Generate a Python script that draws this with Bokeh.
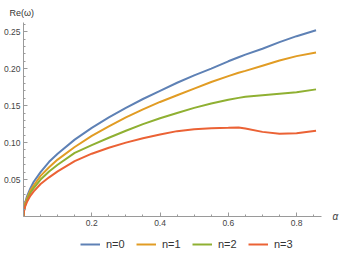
from bokeh.plotting import figure
from bokeh.layouts import column
from bokeh.models import (FixedTicker, Legend, LegendItem, Title, Range1d,
                          LinearAxis, PrintfTickFormatter)
from bokeh.embed import file_html
from bokeh.resources import INLINE

alpha = [0, 0.001, 0.005, 0.01, 0.02, 0.03, 0.05, 0.075, 0.1, 0.15, 0.2, 0.25, 0.3,
         0.35, 0.4, 0.45, 0.5, 0.55, 0.6, 0.63, 0.65, 0.7, 0.75, 0.8, 0.857]
n0 = [0, 0.0085, 0.019, 0.027, 0.038, 0.047, 0.060, 0.074, 0.085, 0.104, 0.120,
      0.134, 0.147, 0.159, 0.170, 0.181, 0.191, 0.200, 0.210, 0.2155, 0.219,
      0.227, 0.236, 0.244, 0.252]
n1 = [0, 0.0077, 0.018, 0.0243, 0.035, 0.042, 0.055, 0.0666, 0.077, 0.094, 0.109,
      0.122, 0.134, 0.145, 0.155, 0.164, 0.173, 0.182, 0.190, 0.1945, 0.197,
      0.204, 0.211, 0.217, 0.222]
n2 = [0, 0.007, 0.0155, 0.022, 0.032, 0.0385, 0.050, 0.0608, 0.070, 0.086, 0.0965,
      0.1065, 0.116, 0.125, 0.133, 0.140, 0.147, 0.153, 0.158, 0.1605, 0.162,
      0.164, 0.166, 0.168, 0.172]
n3 = [0, 0.0062, 0.0138, 0.0195, 0.028, 0.034, 0.044, 0.053, 0.061, 0.075, 0.085,
      0.093, 0.100, 0.106, 0.111, 0.1155, 0.118, 0.1195, 0.120, 0.1205, 0.119,
      0.1145, 0.112, 0.1125, 0.116]
series = [("n=0", n0, "#5E81B5"), ("n=1", n1, "#E19C24"),
          ("n=2", n2, "#8FB032"), ("n=3", n3, "#EB6235")]

x_major = [0.2, 0.4, 0.6, 0.8]
x_minor = [0.05, 0.1, 0.15, 0.25, 0.3, 0.35, 0.45, 0.5, 0.55, 0.65, 0.7, 0.75, 0.85]
y_major = [0.05, 0.10, 0.15, 0.20, 0.25]
y_minor = [0.01, 0.02, 0.03, 0.04, 0.06, 0.07, 0.08, 0.09, 0.11, 0.12, 0.13, 0.14,
           0.16, 0.17, 0.18, 0.19, 0.21, 0.22, 0.23, 0.24, 0.26]

FONT = "Liberation Sans"
AXC = "#9a9a9a"

p = figure(width=341, height=228, output_backend="svg", toolbar_location=None,
           x_range=Range1d(0, 0.873), y_range=Range1d(0, 0.2625),
           min_border_left=0, min_border_right=2, min_border_top=0, min_border_bottom=0)
p.outline_line_color = None
p.grid.grid_line_color = None
p.background_fill_color = "white"

p.title = Title(text="Re(ω)", align="left", offset=-14, text_font=FONT,
                text_font_size="9px", text_font_style="normal", text_color="#333333")

for ax, maj, mnr in ((p.xaxis[0], x_major, x_minor), (p.yaxis[0], y_major, y_minor)):
    ax.ticker = FixedTicker(ticks=maj, minor_ticks=mnr)
    ax.axis_line_color = AXC
    ax.major_tick_line_color = AXC
    ax.minor_tick_line_color = AXC
    ax.major_tick_in = 4
    ax.major_tick_out = 0
    ax.minor_tick_in = 2
    ax.minor_tick_out = 0
    ax.major_label_text_font = FONT
    ax.major_label_text_font_size = "8.5px"
    ax.major_label_text_color = "#444444"
    ax.major_label_standoff = 3
p.xaxis[0].formatter = PrintfTickFormatter(format="%.1f")
p.yaxis[0].formatter = PrintfTickFormatter(format="%.2f")

# axis name "α" placed at the end of the horizontal axis
ra = LinearAxis(ticker=FixedTicker(ticks=[0]), major_label_overrides={0: "α"},
                axis_line_color=None, major_tick_line_color=None,
                minor_tick_line_color=None, major_label_standoff=5,
                major_label_text_font=FONT, major_label_text_font_style="italic",
                major_label_text_font_size="10px", major_label_text_color="#444444")
p.add_layout(ra, "right")

for name, vals, col in series:
    p.line(alpha, vals, line_color=col, line_width=2)

# legend strip below the chart (its lines lie outside its own visible range)
leg = figure(width=341, height=24, output_backend="svg", toolbar_location=None,
             x_range=Range1d(10, 11), y_range=Range1d(0, 1),
             x_axis_type=None, y_axis_type=None,
             min_border_left=0, min_border_right=0, min_border_top=0, min_border_bottom=0)
leg.outline_line_color = None
leg.grid.grid_line_color = None
items = []
for name, vals, col in series:
    r = leg.line(alpha, vals, line_color=col, line_width=2)
    items.append(LegendItem(label=name, renderers=[r]))
legend = Legend(items=items, orientation="horizontal", location=(57, 2),
                border_line_color=None, background_fill_alpha=0,
                label_text_font=FONT, label_text_font_size="11px",
                label_text_color="#333333", label_height=12,
                glyph_width=20, glyph_height=12, label_standoff=6, spacing=10,
                padding=2, margin=0)
leg.add_layout(legend)

layout = column(p, leg, spacing=0)
open("out.html", "w").write(file_html(layout, INLINE))
